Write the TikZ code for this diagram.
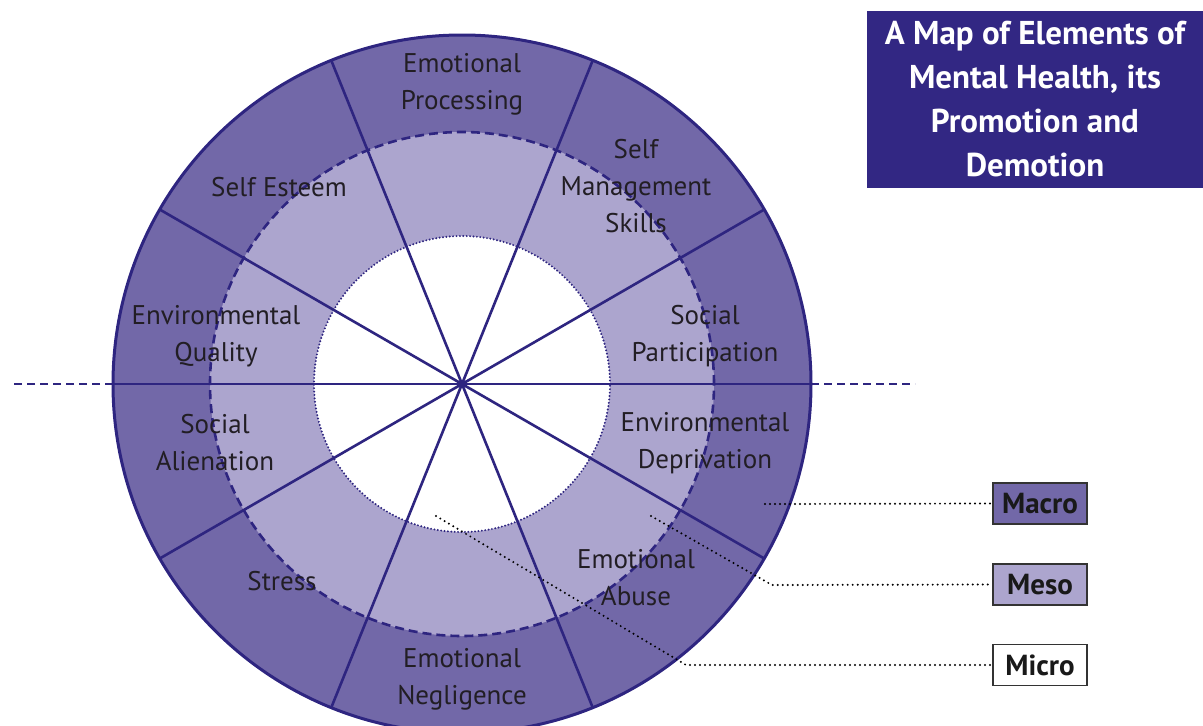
\documentclass[tikz,border=0pt]{standalone}
\usepackage{fontspec}
\setmainfont{PT Sans}
\usetikzlibrary{calc}

\definecolor{macrofill}{RGB}{114,104,168}
\definecolor{mesofill}{RGB}{172,165,206}
\definecolor{ringline}{RGB}{46,37,128}
\definecolor{titlefill}{RGB}{50,39,131}
\definecolor{labelink}{RGB}{34,30,36}

\tikzset{
  ringlabel/.style={text=labelink, align=center, inner sep=0pt,
    font=\fontsize{27}{37}\selectfont},
  spoke/.style={draw=ringline, line width=2.6pt},
  leader/.style={draw=black, line width=2.2pt, dash pattern=on 0pt off 5pt, line cap=round},
  legendbox/.style={draw=black!80, line width=1.4pt, minimum width=94pt, minimum height=41pt,
    inner sep=0pt, font=\fontsize{29}{30}\selectfont\bfseries, text=black!90},
}

\begin{document}
\begin{tikzpicture}[x=1pt, y=-1pt]
\useasboundingbox (0,0) rectangle (1203,726);

\coordinate (c) at (462,384);

% three rings, filled from the outside in
\fill[macrofill] (c) circle[radius=349pt];
\fill[mesofill]  (c) circle[radius=252pt];
\fill[white]     (c) circle[radius=148pt];

% ring borders
\draw[ringline, line width=2.6pt, dash pattern=on 9pt off 5pt] (c) circle[radius=252pt];
\draw[ringline, line width=2.2pt, dash pattern=on 0pt off 3.4pt, line cap=round] (c) circle[radius=148pt];

% spokes through the centre
\foreach \a in {30,68,112,150}
  \draw[spoke] (c) ++(\a:349pt) -- ++(\a+180:698pt);
\draw[spoke] (c) ++(180:349pt) -- ++(0:698pt);

\draw[ringline, line width=3pt] (c) circle[radius=349pt];

% horizontal axis continued outside the wheel
\coordinate (axl) at (10,384);
\coordinate (axr) at (915,384);
\draw[ringline, line width=2.6pt, dash pattern=on 8pt off 5pt] ($(c)+(180:349pt)$) -- (axl);
\draw[ringline, line width=2.6pt, dash pattern=on 8pt off 5pt] ($(c)+(0:349pt)$) -- (axr);

% sector labels
\node[ringlabel] (ep) at (462,84)  {Emotional\\Processing};
\node[ringlabel] (se) at (279,187) {Self Esteem};
\node[ringlabel] (sm) at (636,186) {Self\\Management\\Skills};
\node[ringlabel] (eq) at (216,336) {Environmental\\Quality};
\node[ringlabel] (sp) at (705,336) {Social\\Participation};
\node[ringlabel] (sa) at (215,443) {Social\\Alienation};
\node[ringlabel] (ed) at (705,443) {Environmental\\Deprivation};
\node[ringlabel] (st) at (282,581) {Stress};
\node[ringlabel] (ea) at (636,578) {Emotional\\Abuse};
\node[ringlabel] (en) at (462,679) {Emotional\\Negligence};

% title
\node[fill=titlefill, text=white, align=center, inner sep=0pt,
      minimum width=336pt, minimum height=177pt,
      font=\fontsize{33}{44}\selectfont\bfseries] (title) at (1035,99.5)
  {A Map of Elements of\\Mental Health, its\\Promotion and\\Demotion};

% legend
\node[legendbox, fill=macrofill] (macro) at (1040,503.5) {Macro};
\node[legendbox, fill=mesofill]  (meso)  at (1040,584.5) {Meso};
\node[legendbox, fill=white]     (micro) at (1040,665)   {Micro};

% leader lines from each ring to its legend entry
\coordinate (pmacro) at (765,504);
\coordinate (pmeso)  at (651,516);
\coordinate (bmeso)  at (772,585);
\coordinate (pmicro) at (436,516);
\coordinate (bmicro) at (686,665);

\draw[leader] (pmacro) -- (macro.west);
\draw[leader] (pmeso) -- (bmeso) -- (meso.west);
\draw[leader] (pmicro) -- (bmicro) -- (micro.west);
\end{tikzpicture}
\end{document}
